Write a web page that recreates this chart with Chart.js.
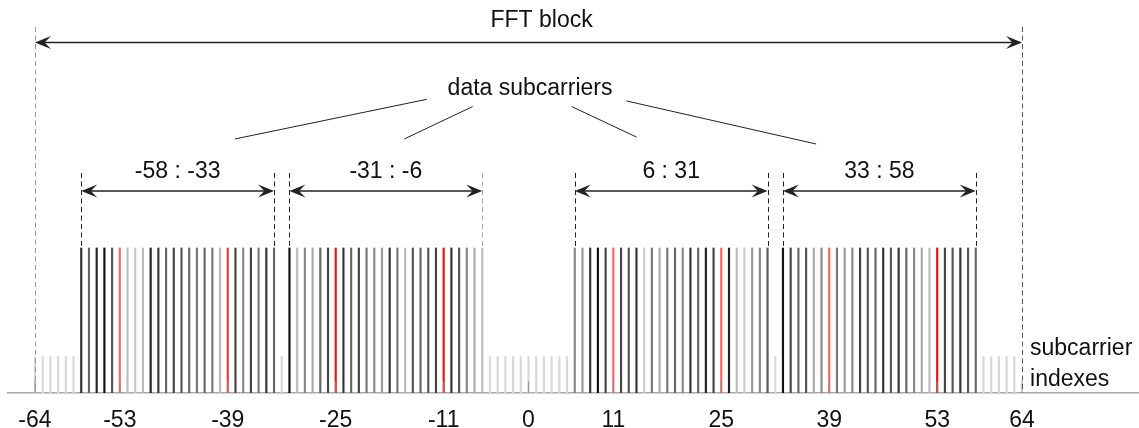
<!DOCTYPE html>
<html>
<head>
<meta charset="utf-8">
<script src="https://cdn.jsdelivr.net/npm/chart.js@4.4.0/dist/chart.umd.min.js"></script>
<style>
  html, body { margin: 0; padding: 0; background: #fff; }
  #wrap { width: 1139px; height: 428px; position: relative; }
</style>
</head>
<body>
<div id="wrap"><canvas id="grafico"></canvas></div>
<script>
// data subcarriers (tall lines), pilots left out
const dataSubcarriers = [
  -58, -57, -56, -55, -54, -52, -51, -50, -49, -48, -47, -46, -45, -44, -43, -42, -41, -40, -38, -37, -36, -35, -34, -33,
  -31, -30, -29, -28, -27, -26, -24, -23, -22, -21, -20, -19, -18, -17, -16, -15, -14, -13, -12, -10, -9, -8, -7, -6,
  6, 7, 8, 9, 10, 12, 13, 14, 15, 16, 17, 18, 19, 20, 21, 22, 23, 24, 26, 27, 28, 29, 30, 31,
  33, 34, 35, 36, 37, 38, 40, 41, 42, 43, 44, 45, 46, 47, 48, 49, 50, 51, 52, 54, 55, 56, 57, 58
];
// grey shade of each data line, same order as above
const dataShades = [
  '#2e2e2e', '#666', '#222', '#111', '#555', '#bbb', '#c6c6c6', '#bbb', '#222', '#383838', '#666', '#444', '#555', '#666', '#777', '#666', '#777', '#bbb', '#444', '#888', '#444', '#777', '#333', '#666',
  '#111', '#bbb', '#888', '#aaa', '#666', '#444', '#333', '#666', '#444', '#777', '#888', '#999', '#333', '#777', '#bbb', '#555', '#666', '#555', '#444', '#333', '#555', '#888', '#aaa', '#bbb',
  '#888', '#999', '#333', '#111', '#444', '#444', '#555', '#333', '#ccc', '#777', '#aaa', '#777', '#666', '#888', '#333', '#666', '#222', '#444', '#222', '#bbb', '#ccc', '#999', '#888', '#555',
  '#111', '#444', '#666', '#555', '#aaa', '#888', '#777', '#999', '#888', '#444', '#555', '#666', '#333', '#555', '#333', '#666', '#888', '#aaa', '#bbb', '#444', '#555', '#333', '#555', '#666'
];
// pilot subcarriers (red lines)
const pilotSubcarriers = [-53, -39, -25, -11, 11, 25, 39, 53];
const pilotColors = ['#f46a6a', '#e83a3a', '#e61212', '#ee1111', '#f46464', '#f46464', '#f46464', '#e81010'];
// unused subcarriers (short light lines)
const nullSubcarriers = [-64, -63, -62, -61, -60, -59, -32, -5, -4, -3, -2, -1, 0, 1, 2, 3, 4, 5, 32, 59, 60, 61, 62, 63];
const dataLevel = 1;
const nullLevel = 0.25;

const tickLabels = [-64, -53, -39, -25, -11, 0, 11, 25, 39, 53, 64];
const bands = [[-58, -33], [-31, -6], [6, 31], [33, 58]];
const bandLabels = ['-58 : -33', '-31 : -6', '6 : 31', '33 : 58'];
const bandEdgeColors = [['#222', '#222'], ['#222', '#aaa'], ['#222', '#222'], ['#222', '#222']];
const fftBlock = [-64, 64];

const FONTE = "'Liberation Sans', Arial, sans-serif";
Chart.defaults.font.family = FONTE;

function seta(ctx, x1, x2, py, cor) {
  const L = 16, W = 6.5;
  ctx.save();
  ctx.strokeStyle = cor;
  ctx.fillStyle = cor;
  ctx.lineWidth = 1.5;
  ctx.beginPath();
  ctx.moveTo(x1 + 4, py);
  ctx.lineTo(x2 - 4, py);
  ctx.stroke();
  [[x1, 1], [x2, -1]].forEach(([px, d]) => {
    ctx.beginPath();
    ctx.moveTo(px, py);
    ctx.lineTo(px + d * L, py - W);
    ctx.lineTo(px + d * L * 0.6, py);
    ctx.lineTo(px + d * L, py + W);
    ctx.closePath();
    ctx.fill();
  });
  ctx.restore();
}

function tracejada(ctx, px, yTop, yBot, cor) {
  ctx.save();
  ctx.strokeStyle = cor;
  ctx.lineWidth = 1;
  ctx.setLineDash([5, 3.5]);
  ctx.beginPath();
  ctx.moveTo(Math.round(px) + 0.5, yTop);
  ctx.lineTo(Math.round(px) + 0.5, yBot);
  ctx.stroke();
  ctx.restore();
}

const anotacoes = {
  id: 'anotacoes',
  afterDatasetsDraw(chart) {
    const { ctx, scales: { x, y } } = chart;
    const base = y.getPixelForValue(0);

    // tick stubs
    ctx.save();
    ctx.strokeStyle = 'rgba(140,140,140,0.8)';
    ctx.lineWidth = 1.2;
    x.ticks.forEach(t => {
      const px = x.getPixelForValue(t.value);
      ctx.beginPath();
      ctx.moveTo(px, base);
      ctx.lineTo(px, base - 12);
      ctx.stroke();
    });
    ctx.restore();

    // FFT block
    tracejada(ctx, x.getPixelForValue(fftBlock[0]), y.getPixelForValue(2.524), base, '#999');
    tracejada(ctx, x.getPixelForValue(fftBlock[1]), y.getPixelForValue(2.524), base, '#555');
    seta(ctx, x.getPixelForValue(fftBlock[0]), x.getPixelForValue(fftBlock[1]), y.getPixelForValue(2.417), '#222');

    ctx.save();
    ctx.fillStyle = '#111';
    ctx.font = '23px ' + FONTE;
    ctx.textAlign = 'center';
    ctx.textBaseline = 'alphabetic';
    ctx.fillText('FFT block', x.getPixelForValue(1.7), y.getPixelForValue(2.524));
    ctx.fillText('data subcarriers', x.getPixelForValue(0.2), y.getPixelForValue(2.055));

    // bands
    bands.forEach(([a, b], i) => {
      const xa = x.getPixelForValue(a), xb = x.getPixelForValue(b);
      tracejada(ctx, xa, y.getPixelForValue(1.517), y.getPixelForValue(dataLevel), bandEdgeColors[i][0]);
      tracejada(ctx, xb, y.getPixelForValue(1.517), y.getPixelForValue(dataLevel), bandEdgeColors[i][1]);
      seta(ctx, xa, xb, y.getPixelForValue(1.393), '#222');
      ctx.fillStyle = '#111';
      ctx.fillText(bandLabels[i], (xa + xb) / 2, y.getPixelForValue(1.483));
    });

    // pointer lines from the "data subcarriers" label
    ctx.strokeStyle = '#222';
    ctx.lineWidth = 1;
    [[-13.2, 2.025, -38.06, 1.752], [-7.25, 1.975, -16.1, 1.752], [5.6, 1.975, 14.0, 1.765], [12.7, 2.014, 37.3, 1.717]]
      .forEach(([x1, y1, x2, y2]) => {
        ctx.beginPath();
        ctx.moveTo(x.getPixelForValue(x1), y.getPixelForValue(y1));
        ctx.lineTo(x.getPixelForValue(x2), y.getPixelForValue(y2));
        ctx.stroke();
      });

    // axis caption
    ctx.textAlign = 'left';
    ctx.fillText('subcarrier', x.getPixelForValue(65.04), base - 38);
    ctx.fillText('indexes', x.getPixelForValue(65.04), base - 7);
    ctx.restore();
  }
};

window.addEventListener('DOMContentLoaded', () => {
  const ctx = document.getElementById('grafico').getContext('2d');
  new Chart(ctx, {
    type: 'bar',
    data: {
      datasets: [
        {
          label: 'unused',
          data: nullSubcarriers.map(k => ({ x: k, y: nullLevel })),
          backgroundColor: '#d8d8d8',
          barThickness: 1.5, grouped: false, borderWidth: 0
        },
        {
          label: 'data',
          data: dataSubcarriers.map(k => ({ x: k, y: dataLevel })),
          backgroundColor: dataShades,
          barThickness: 1.5, grouped: false, borderWidth: 0
        },
        {
          label: 'pilots',
          data: pilotSubcarriers.map(k => ({ x: k, y: dataLevel })),
          backgroundColor: pilotColors,
          barThickness: 1.5, grouped: false, borderWidth: 0
        }
      ]
    },
    options: {
      responsive: true,
      maintainAspectRatio: false,
      animation: false,
      layout: { padding: { left: 8, right: 0, top: 0, bottom: -20 } },
      plugins: { legend: { display: false }, tooltip: { enabled: false } },
      scales: {
        x: {
          type: 'linear',
          min: -67.5,
          max: 79.17,
          offset: false,
          afterBuildTicks: axis => { axis.ticks = tickLabels.map(v => ({ value: v })); },
          grid: { display: false, drawTicks: false },
          border: { display: true, color: '#aaa', width: 1.5 },
          ticks: {
            padding: 13.7,
            color: '#111',
            font: { size: 23, family: FONTE },
            maxRotation: 0,
            autoSkip: false
          }
        },
        y: {
          display: false,
          min: 0,
          max: 2.71
        }
      }
    },
    plugins: [anotacoes]
  });
});
</script>
</body>
</html>
